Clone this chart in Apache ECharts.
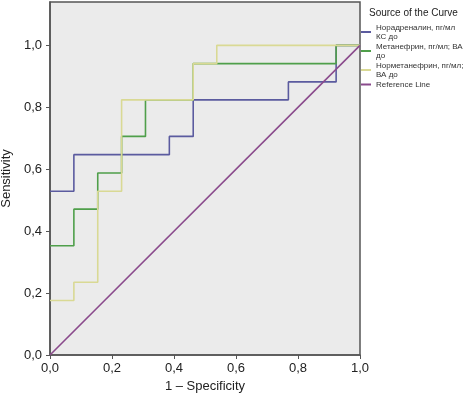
<!DOCTYPE html>
<html>
<head>
<meta charset="utf-8">
<script src="https://cdn.jsdelivr.net/npm/echarts@6/dist/echarts.min.js"></script>
<style>
  html, body { margin: 0; padding: 0; background: #fff; }
  #chart { width: 463px; height: 397px; }
</style>
</head>
<body>
<div id="chart"></div>
<script>
// ROC curves: 1 - specificity (x) and sensitivity (y), corner points of each step
const curveNames = [
  'Норадреналин, пг/мл\nКС до',
  'Метанефрин, пг/мл; ВА\nдо',
  'Норметанефрин, пг/мл;\nВА до',
  'Reference Line'
];

const noradrX = [0, 0.077, 0.077, 0.385, 0.385, 0.462, 0.462, 0.769, 0.769, 0.923, 0.923, 1];
const noradrY = [0.529, 0.529, 0.647, 0.647, 0.706, 0.706, 0.824, 0.824, 0.882, 0.882, 1, 1];

const metanX = [0, 0.077, 0.077, 0.154, 0.154, 0.231, 0.231, 0.308, 0.308, 0.462, 0.462, 0.923, 0.923, 1];
const metanY = [0.353, 0.353, 0.471, 0.471, 0.588, 0.588, 0.706, 0.706, 0.824, 0.824, 0.941, 0.941, 1, 1];

const normetX = [0, 0.077, 0.077, 0.154, 0.154, 0.231, 0.231, 0.462, 0.462, 0.538, 0.538, 1];
const normetY = [0.176, 0.176, 0.235, 0.235, 0.529, 0.529, 0.824, 0.824, 0.941, 0.941, 1, 1];

const refX = [0, 1];
const refY = [0, 1];

const tickValues = [0, 0.2, 0.4, 0.6, 0.8, 1.0];

const colors = ['#5b5b9f', '#4f9f4a', '#d9d994', '#8a4a8c'];

function pairs(xs, ys) {
  return xs.map((x, i) => [x, ys[i]]);
}

const chart = echarts.init(document.getElementById('chart'));
const font = '"Liberation Sans", Arial, sans-serif';
const fmt = v => v.toFixed(1).replace('.', ',');

chart.setOption({
  animation: false,
  backgroundColor: '#ffffff',
  textStyle: { fontFamily: font },
  title: {
    text: 'Source of the Curve',
    left: 369,
    top: 8,
    padding: 0,
    textStyle: { fontSize: 10, fontWeight: 'normal', color: '#222', fontFamily: font }
  },
  legend: {
    orient: 'vertical',
    left: 361,
    top: 23,
    padding: 0,
    itemGap: 1,
    itemWidth: 10,
    itemHeight: 2,
    icon: 'rect',
    data: curveNames,
    textStyle: { fontSize: 8, lineHeight: 9, color: '#333', fontFamily: font }
  },
  grid: {
    left: 50,
    right: 103,
    top: 2,
    bottom: 42,
    outerBoundsMode: 'none',
    containLabel: false,
    show: true,
    backgroundColor: '#ebebeb',
    borderColor: '#555',
    borderWidth: 1.5
  },
  xAxis: {
    type: 'value',
    min: 0,
    max: 1,
    interval: 0.2,
    name: '1 – Specificity',
    nameLocation: 'middle',
    nameGap: 24,
    nameTextStyle: { fontSize: 13, color: '#222', fontFamily: font },
    axisLine: { lineStyle: { color: '#555', width: 1.5 } },
    axisTick: { show: true, length: 4, lineStyle: { color: '#555' } },
    axisLabel: { fontSize: 13, color: '#222', margin: 7, formatter: fmt, fontFamily: font },
    splitLine: { show: false }
  },
  yAxis: {
    type: 'value',
    min: 0,
    max: 1.14,
    name: 'Sensitivity',
    nameLocation: 'middle',
    nameGap: 29,
    nameTextStyle: { fontSize: 13, color: '#222', fontFamily: font },
    axisLine: { lineStyle: { color: '#555', width: 1.5 } },
    axisTick: { show: true, length: 4, customValues: tickValues, lineStyle: { color: '#555' } },
    axisLabel: { fontSize: 13, color: '#222', margin: 8, customValues: tickValues, formatter: fmt, fontFamily: font },
    splitLine: { show: false }
  },
  series: [
    {
      name: curveNames[0], type: 'line', data: pairs(noradrX, noradrY),
      showSymbol: false, color: colors[0], lineStyle: { width: 1.6, color: colors[0] }
    },
    {
      name: curveNames[1], type: 'line', data: pairs(metanX, metanY),
      showSymbol: false, color: colors[1], lineStyle: { width: 1.6, color: colors[1] }
    },
    {
      name: curveNames[2], type: 'line', data: pairs(normetX, normetY),
      showSymbol: false, color: colors[2], lineStyle: { width: 1.6, color: colors[2] }
    },
    {
      name: curveNames[3], type: 'line', data: pairs(refX, refY),
      showSymbol: false, color: colors[3], lineStyle: { width: 1.6, color: colors[3] }
    }
  ]
});
</script>
</body>
</html>
